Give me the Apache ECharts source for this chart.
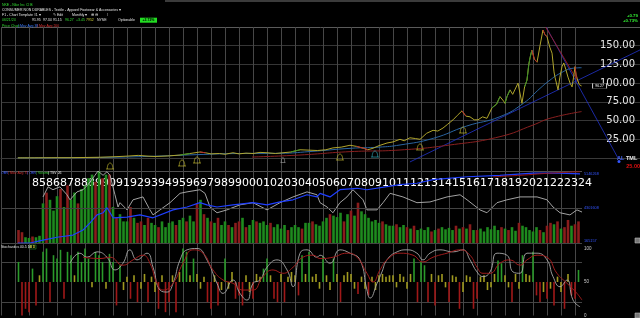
<!DOCTYPE html>
<html><head><meta charset="utf-8">
<script src="https://cdn.jsdelivr.net/npm/echarts@6/dist/echarts.min.js"></script>
<style>html,body{margin:0;padding:0;background:#000;}#c{width:640px;height:318px;}</style>
</head><body><div id="c"></div>
<script>
// ---------------- DATA ----------------
// Monthly close, [year, price]
const priceData = [
[1984.20,0.2],[1985.00,0.2],[1986.00,0.3],[1987.00,0.4],[1988.00,0.4],[1989.00,0.7],[1990.00,1.0],[1991.00,1.6],
[1992.00,2.5],[1992.80,3.5],[1993.50,2.5],[1994.00,2.0],[1995.00,2.8],[1995.80,4.0],[1996.50,6.0],[1997.21,8.0],
[1997.60,7.0],[1998.00,5.5],[1998.60,6.0],[1999.00,5.0],[1999.57,7.0],[2000.00,5.5],[2000.50,6.5],[2001.00,6.0],
[2001.50,7.5],[2002.00,7.0],[2002.60,6.0],[2003.14,7.0],[2003.70,8.0],[2004.36,11.0],[2005.00,10.5],[2005.60,10.0],
[2006.20,11.0],[2006.71,13.5],[2007.30,14.5],[2007.93,17.0],[2008.40,15.5],[2008.90,13.0],[2009.20,11.0],[2009.57,13.0],
[2010.00,16.5],[2010.57,20.0],[2011.00,21.5],[2011.50,25.0],[2011.80,23.0],[2012.21,27.0],[2012.60,26.0],[2012.93,25.0],
[2013.40,33.0],[2013.86,37.0],[2014.20,36.0],[2014.57,40.0],[2014.90,45.0],[2015.29,51.0],[2015.60,57.0],[2015.93,63.0],
[2016.20,56.0],[2016.50,55.0],[2016.80,51.0],[2017.07,51.0],[2017.40,55.0],[2017.71,53.0],[2018.07,67.0],[2018.40,72.0],
[2018.64,82.0],[2018.90,76.0],[2019.00,73.0],[2019.14,82.0],[2019.36,91.0],[2019.55,85.0],[2019.93,100.0],[2020.21,73.0],
[2020.40,95.0],[2020.57,104.0],[2020.70,125.0],[2020.79,134.0],[2020.92,144.0],[2021.10,132.0],[2021.29,128.0],[2021.50,150.0],
[2021.71,171.0],[2021.85,165.0],[2022.00,162.0],[2022.20,148.0],[2022.36,140.0],[2022.50,115.0],[2022.57,108.0],[2022.79,91.0],
[2022.92,108.0],[2023.07,122.0],[2023.20,127.0],[2023.35,118.0],[2023.50,108.0],[2023.65,100.0],[2023.79,95.0],[2023.90,108.0],
[2024.00,122.0],[2024.07,112.0],[2024.14,107.0],[2024.30,98.0],[2024.47,96.27]
];
const ma38Data = [[1984.2,0.2],[1988,0.4],[1991,1.0],[1994,2.4],[1997,4.5],[2000,6.0],[2003,6.3],[2005,8.5],[2008,13],[2010,14.5],
[2011.5,17.4],[2013.88,26.3],[2016.26,42.7],[2018.64,55.2],[2020.31,73],[2021.5,93],[2022.21,104],[2022.93,113],[2023.88,120],[2024.47,120.6]];
const ma200Data = [[2000.93,1.3],[2004.36,4],[2007.93,8.5],[2011.5,10.7],[2015.07,17.4],[2018.64,28.5],[2021.0,44],[2022.21,53],[2024.47,62]];
const trendUpBlue = [[2012.21,-5.3],[2028.64,144.3]];
const trendDownBlue = [[2021.94,175],[2027.07,0]];
const trendDownRed = [[2021.90,175],[2024.29,99.8]];
// periods drawn as up (green) / down (red) runs on the price line
const upRuns = [[1995.8,1996.5],[2003.7,2004.36],[2018.07,2018.64],[2019.0,2019.36],[2020.4,2020.92]];
const downRuns = [[1997.21,1997.6],[2008.4,2009.2],[2015.93,2016.2],[2020.92,2021.29],[2021.71,2022.0],[2024.0,2024.14]];
const earningsMarks = [[1990.79,-10.7],[1995.93,-6.7],[1997.0,-2.7],[2007.21,1.3],[2012.93,14.7],[2016.0,37.4]];
const cyanMarks = [[2009.71,5.3]];
const greyMarks = [[2003.14,-2.7]];
const priceTicks = [25,50,75,100,125,150];
const firstYear = 1985, lastYear = 2024;
const lastClose = 96.27;

// Quarterly volume (percent of panel height), sign = up/down quarter, from 1984.25
const qStart = 1984.25, qStep = 0.25;
const volumeQ = [
-18,-15,8,
7,-9,8,10,  55,-70,60,45,  65,-75,50,-80,  60,70,-55,75,  80,90,95,-85,
100,-90,95,-95,  50,-35,40,30,  30,-50,35,-28,  -30,25,-35,28,  25,-22,30,22,
28,30,-25,32,  35,-30,38,30,  -55,60,-40,35,  -30,28,-35,25,  30,-25,22,-28,
-30,35,-22,25,  32,-30,28,30,  25,-28,22,26,  20,25,-18,22,  25,22,-20,28,
28,-30,26,24,  30,35,-40,38,  36,42,-30,40,  -45,38,-56,44,  40,35,30,32,
28,-30,26,24,  24,-26,22,25,  -22,20,-24,18,  20,18,22,-16,  18,-20,22,19,
21,18,-24,20,  -22,20,-26,18,  -18,20,16,22,  19,24,18,-22,  20,-18,22,17,
-28,24,22,18,  16,22,-18,15,  -24,-28,26,-30,  20,-22,-32,24,
-26,-30
];
const tsvData = [[1986.0,64],[1986.36,78],[1986.71,74],[1987.21,78],[1987.71,67],[1987.93,60],[1988.43,71],[1988.86,74],
[1989.21,81],[1989.71,94],[1989.93,100],[1990.29,94],[1990.57,99],[1990.79,94],[1991.14,67],[1991.36,50],[1991.5,56],
[1992.0,46],[1992.43,60],[1993.14,64],[1993.64,46],[1993.86,39],[1994.36,46],[1995.07,56],[1995.79,69],[1996.29,71],
[1997.21,74],[1997.57,69],[1997.93,50],[1998.43,42],[1999.14,46],[2000.07,53],[2001.0,56],[2002.0,46],[2002.93,56],
[2003.86,64],[2004.86,71],[2005.57,67],[2005.79,56],[2006.29,50],[2006.71,42],[2007.21,56],[2007.71,64],[2008.14,74],
[2008.86,60],[2009.14,46],[2009.86,46],[2010.29,56],[2010.79,69],[2011.71,64],[2012.71,56],[2013.64,57],[2014.86,64],
[2015.79,67],[2016.29,60],[2017.21,46],[2017.71,42],[2018.43,56],[2019.14,60],[2020.07,64],[2021.29,64],[2022.0,60],
[2022.43,50],[2022.93,42],[2023.64,39],[2024.14,46],[2024.5,43]];
const obvData = [[1984.2,0],[1985.07,0],[1986.0,4],[1987.0,8],[1988.14,11],[1988.86,18],[1989.36,28],[1989.86,39],[1990.29,42],
[1990.57,49],[1990.79,42],[1991.0,35],[1992.0,36],[1992.93,39],[1993.86,35],[1995.29,46],[1996.29,50],[1997.21,56],
[1997.71,53],[1998.43,50],[1999.57,53],[2001.0,56],[2002.0,53],[2002.93,57],[2003.86,60],[2004.86,67],[2005.57,64],
[2005.79,69],[2006.5,64],[2007.21,74],[2008.43,76],[2009.14,74],[2011.5,81],[2012.71,83],[2013.86,88],[2016.29,92],
[2018.64,94],[2021.0,97],[2022.93,97],[2024.36,96]];
const obvMA = [[2018.14,92],[2020.07,94],[2022.21,97],[2024.36,99]];
const volScaleLabels = {top:'5146268', mid:'4301608', bottom:'165157'};
const volScaleLevels = {top:96, mid:48.6, bottom:3};

// Stochastics
const stochK = [[1987.93,78],[1988.64,93],[1989.14,87],[1989.86,95],[1990.57,87],[1991.14,68],[1991.71,78],[1992.21,98],
[1992.71,83],[1993.43,93],[1993.86,72],[1994.36,38],[1994.86,35],[1995.29,48],[1995.79,83],[1996.29,98],[1997.0,100],
[1997.71,83],[1998.43,48],[1998.86,33],[1999.57,53],[2000.07,33],[2000.57,23],[2001.0,48],[2001.5,53],[2002.0,72],
[2002.71,83],[2003.43,68],[2003.86,43],[2004.36,93],[2004.86,98],[2005.57,87],[2005.79,90],[2006.5,78],[2007.21,98],
[2007.93,93],[2008.64,83],[2009.14,38],[2009.36,26],[2009.86,48],[2010.21,65],[2010.57,83],[2011.29,95],[2012.0,98],
[2012.71,93],[2013.14,83],[2013.64,93],[2014.36,98],[2015.29,95],[2016.0,98],[2016.5,83],[2017.0,65],[2017.43,58],
[2017.93,65],[2018.43,93],[2019.14,90],[2019.57,65],[2020.07,63],[2020.57,93],[2021.29,93],[2022.0,83],[2022.43,58],
[2022.93,43],[2023.43,53],[2023.86,23],[2024.36,13]];
const stochD = [[1988.86,87],[1990.07,85],[1990.79,87],[1991.71,75],[1992.43,83],[1993.14,90],[1993.64,78],[1994.14,48],
[1994.57,38],[1995.29,48],[1996.0,78],[1996.71,98],[1997.43,93],[1998.14,68],[1998.86,53],[1999.57,48],[2000.29,38],
[2001.0,38],[2001.71,58],[2002.43,68],[2003.14,63],[2003.86,72],[2004.57,87],[2005.29,90],[2005.79,85],[2006.71,87],
[2007.71,93],[2008.43,87],[2009.14,63],[2009.57,50],[2010.07,68],[2010.57,83],[2011.5,93],[2012.43,90],[2013.14,80],
[2013.86,87],[2014.86,93],[2015.79,98],[2016.5,90],[2017.0,72],[2017.43,63],[2017.93,63],[2018.64,78],[2019.36,83],
[2020.07,75],[2020.57,83],[2021.29,90],[2022.0,87],[2022.71,63],[2023.43,48],[2024.14,33],[2024.5,23]];
// Quarterly histogram around the 50 line, from 1984.25
const stochHistQ = [
30,-50,-40,
-45,20,-35,10,  45,50,-30,40,  35,48,-25,45,  40,10,45,30,  50,35,-8,45,
40,30,-10,42,  30,-35,25,-12,  8,-25,10,-30,  -10,12,-30,8,  -15,-40,10,-45,
-30,10,-45,15,  50,45,10,35,  12,-10,8,-30,  -40,10,-35,-12,  35,-10,15,-25,
-20,-35,10,-15,  -25,12,8,20,  35,10,-25,-30,  12,-30,8,15,  10,-20,40,12,
45,8,12,-10,  38,10,-12,35,  12,-30,10,15,  12,-10,-18,8,  -10,-20,8,-12,
10,12,8,10,  10,-8,12,8,  -10,12,35,-30,  30,25,-30,12,  -35,10,12,-8,
-30,10,8,-40,  -15,10,8,-40,  -25,8,10,-12,  -8,12,32,28,  10,-8,-30,12,
-10,40,12,10,  45,-20,-30,-15,  -25,-10,-35,8,  -15,-40,12,-20,
-25,18
];
const stochLabels = [0,50,100];

// ---------------- LAYOUT / STYLE ----------------
const PX_PER_YEAR = 14, X0 = 1983, LEFT = 1;
const mainW = 639, subW = 581;
const vCol = '#474747', none = 'rgba(0,0,0,0)';
const vColors = (n) => Array.from({length:n}, (_,i) => (X0+i) <= lastYear ? vCol : none);
const yellow = '#b0a52c', green = '#3a9028', red = '#b82a2a';
const font = 'Liberation Sans, Arial, sans-serif';

function tx(x, y, text, fill, size, weight, align) {
  return {type:'text', x:x, y:y, silent:true, z:100,
    style:{text:text, fill:fill, font:(weight||'normal')+' '+(size||3.5)+'px '+font,
      align:align||'left', verticalAlign:'middle', textAlign:align||'left', textVerticalAlign:'middle'}};
}
// build run segments from the price array, separated by gaps
function runSegments(runs) {
  const out = [];
  runs.forEach(r => {
    priceData.filter(p => p[0] >= r[0] - 1e-9 && p[0] <= r[1] + 1e-9).forEach(p => out.push(p));
    out.push('-');
  });
  return out;
}

const volBars = volumeQ.map((v,i) => ({value:[qStart+i*qStep, Math.abs(v)], itemStyle:{color: v>=0 ? '#1e8a1e' : '#8a1c1c'}}));
const histBars = stochHistQ.map((v,i) => ({value:[qStart+i*qStep, v], itemStyle:{color: v>15 ? '#2a9a2a' : (v<-15 ? '#a01818' : '#a09a20')}}));
const bell = 'path://M0,9 L10,9 M1.5,9 C1.5,1 8.5,1 8.5,9';

const stochMax = 100 + 4.5/0.67;

const option = {
  backgroundColor:'#000', animation:false,
  grid:[
    {left:LEFT, top:27, width:mainW, height:200*131/175, containLabel:false, outerBoundsMode:'none'},
    {left:LEFT, top:171, width:subW, height:72, containLabel:false, outerBoundsMode:'none'},
    {left:LEFT, top:244, width:subW, height:71.5, containLabel:false, outerBoundsMode:'none'}
  ],
  xAxis:[
    {gridIndex:0, type:'value', min:X0, max:X0+mainW/PX_PER_YEAR, interval:1,
      axisLine:{show:true, onZero:true, lineStyle:{color:'#3a3a3a'}}, axisTick:{show:false},
      splitLine:{show:true, lineStyle:{color:vColors(50), width:1}},
      axisLabel:{show:true, margin:1, color:'#ffffff', fontFamily:'DejaVu Sans', fontSize:11, align:'left', padding:[0,0,0,3],
        formatter: v => (Number.isInteger(v) && v>=firstYear && v<=lastYear) ? String(v%100).padStart(2,'0') : ''}},
    {gridIndex:1, type:'value', min:X0, max:X0+subW/PX_PER_YEAR, interval:1,
      axisLine:{show:false, onZero:false}, axisTick:{show:false}, axisLabel:{show:false},
      splitLine:{show:true, lineStyle:{color:vColors(46), width:1}}},
    {gridIndex:2, type:'value', min:X0, max:X0+subW/PX_PER_YEAR, interval:1,
      axisLine:{show:false, onZero:false}, axisTick:{show:false}, axisLabel:{show:false},
      splitLine:{show:true, lineStyle:{color:vColors(46), width:1}}}
  ],
  yAxis:[
    {gridIndex:0, type:'value', position:'right', min:-25, max:175, interval:25,
      axisLine:{show:false}, axisTick:{show:false},
      splitLine:{show:true, lineStyle:{color:[none,'#363636','#363636','#363636','#363636','#363636','#363636','#363636','#5a5a5a']}},
      axisLabel:{show:true, inside:true, margin:5, color:'#e6e6e6', fontFamily:'DejaVu Sans', fontSize:10, padding:[0,0,4,0],
        formatter: v => priceTicks.indexOf(v) >= 0 ? v.toFixed(2) : ''}},
    {gridIndex:1, type:'value', position:'right', min:0, max:100, interval:100,
      axisLine:{show:false}, axisTick:{show:false}, axisLabel:{show:false},
      splitLine:{show:true, lineStyle:{color:['#444','#505050']}}},
    {gridIndex:2, type:'value', position:'right', min:0, max:stochMax, interval:10,
      axisLine:{show:false}, axisTick:{show:false},
      splitLine:{show:true, lineStyle:{color:[none,none,'#444',none,none,none,none,none,'#444',none,none,none,none]}},
      axisLabel:{show:true, margin:2, color:'#cccccc', fontFamily:font, fontSize:4.5,
        formatter: v => stochLabels.indexOf(v) >= 0 ? String(v) : ''}},
    {gridIndex:2, type:'value', position:'right', min:-50, max:stochMax-50, show:false}
  ],
  series:[
    {type:'line', name:'Price', xAxisIndex:0, yAxisIndex:0, data:priceData, symbol:'none', z:5,
      lineStyle:{width:1, color:yellow}, itemStyle:{color:yellow},
      markPoint:{symbol:'rect', symbolSize:[14,5], symbolOffset:[18,0], silent:true,
        itemStyle:{color:'#000', borderColor:'#cfcfcf', borderWidth:0.6},
        label:{show:true, position:'inside', color:'#fff', fontSize:3.5, fontFamily:font, formatter:String(lastClose)},
        data:[{coord:[priceData[priceData.length-1][0], lastClose]}]}},
    {type:'line', name:'PriceUp', xAxisIndex:0, yAxisIndex:0, data:runSegments(upRuns), symbol:'none', z:6, connectNulls:false,
      lineStyle:{width:1, color:green}, itemStyle:{color:green}},
    {type:'line', name:'PriceDown', xAxisIndex:0, yAxisIndex:0, data:runSegments(downRuns), symbol:'none', z:6, connectNulls:false,
      lineStyle:{width:1, color:red}, itemStyle:{color:red}},
    {type:'line', name:'MA38', xAxisIndex:0, yAxisIndex:0, data:ma38Data, symbol:'none', smooth:true, z:4,
      lineStyle:{width:1, color:'#2a64a0'}, itemStyle:{color:'#2a64a0'}},
    {type:'line', name:'MA200', xAxisIndex:0, yAxisIndex:0, data:ma200Data, symbol:'none', smooth:true, z:4,
      lineStyle:{width:1, color:'#8a2020'}, itemStyle:{color:'#8a2020'}},
    {type:'line', xAxisIndex:0, yAxisIndex:0, data:trendUpBlue, symbol:'none', z:3, lineStyle:{width:0.8, color:'#2233cc'}},
    {type:'line', xAxisIndex:0, yAxisIndex:0, data:trendDownBlue, symbol:'none', z:3, lineStyle:{width:0.8, color:'#2233cc'}},
    {type:'line', xAxisIndex:0, yAxisIndex:0, data:trendDownRed, symbol:'none', z:3, lineStyle:{width:0.8, color:'#b02020'}},
    {type:'scatter', xAxisIndex:0, yAxisIndex:0, data:earningsMarks, symbol:bell, symbolSize:[8,6], z:6,
      itemStyle:{color:none, borderColor:'#c8c030', borderWidth:0.8}},
    {type:'scatter', xAxisIndex:0, yAxisIndex:0, data:cyanMarks, symbol:bell, symbolSize:[8,6], z:6,
      itemStyle:{color:none, borderColor:'#30b0c0', borderWidth:0.8}},
    {type:'scatter', xAxisIndex:0, yAxisIndex:0, data:greyMarks, symbol:bell, symbolSize:[5,5], z:6,
      itemStyle:{color:none, borderColor:'#999', borderWidth:0.8}},
    {type:'bar', xAxisIndex:1, yAxisIndex:1, data:volBars, barWidth:2.6, z:2},
    {type:'line', xAxisIndex:1, yAxisIndex:1, data:tsvData, symbol:'none', z:4, lineStyle:{width:0.9, color:'#b4b4b4'}, itemStyle:{color:'#b4b4b4'},
      markLine:{symbol:'none', silent:true, animation:false,
        label:{show:true, position:'end', distance:2, color:'#3355ff', fontSize:3.8, fontFamily:font},
        data:[
          {yAxis:volScaleLevels.mid, lineStyle:{color:'#444', type:'solid', width:1}, label:{formatter:volScaleLabels.mid}},
          {yAxis:volScaleLevels.top, lineStyle:{color:none, width:0}, label:{formatter:volScaleLabels.top}},
          {yAxis:volScaleLevels.bottom, lineStyle:{color:none, width:0}, label:{formatter:volScaleLabels.bottom}}
        ]}},
    {type:'line', xAxisIndex:1, yAxisIndex:1, data:obvData, symbol:'none', z:5, lineStyle:{width:1.2, color:'#1f3fff'}, itemStyle:{color:'#1f3fff'}},
    {type:'line', xAxisIndex:1, yAxisIndex:1, data:obvMA, symbol:'none', smooth:true, z:5, lineStyle:{width:0.9, color:'#a01818'}, itemStyle:{color:'#a01818'}},
    {type:'bar', xAxisIndex:2, yAxisIndex:3, data:histBars, barWidth:1.6, z:2},
    {type:'line', xAxisIndex:2, yAxisIndex:2, data:stochK, symbol:'none', smooth:true, z:4, lineStyle:{width:0.9, color:'#a8a8a8'}, itemStyle:{color:'#a8a8a8'}},
    {type:'line', xAxisIndex:2, yAxisIndex:2, data:stochD, symbol:'none', smooth:true, z:5, lineStyle:{width:1, color:'#a01c1c'}, itemStyle:{color:'#a01c1c'}}
  ],
  graphic:[
    {type:'line', shape:{x1:165, y1:1, x2:640, y2:1}, style:{stroke:'#777', lineWidth:1}, silent:true},
    tx(2,5,'NKE - Nike Inc Cl B','#33dd33'),
    tx(2,10,'CONSUMER NON DURABLES - Textile - Apparel Footwear & Accessories \u25be','#e6e6e6'),
    tx(2,15,'F1 - Chart Template #1 \u25be','#e6e6e6'),
    tx(53,15,'\u270e Edit','#e6e6e6'),
    tx(72,15,'Monthly \u25be','#e6e6e6'),
    tx(91,15,'\u2295 \u2296','#e6e6e6'),
    tx(107,15,'/','#e6e6e6'),
    tx(2,20,'06/21/24','#33dd33'),
    tx(32,20,'91.95','#e6e6e6'),
    tx(43,20,'97.34','#e6e6e6'),
    tx(53,20,'91.15','#e6e6e6'),
    tx(65,20,'96.27','#33dd33'),
    tx(76,20,'+3.45','#33dd33'),
    tx(86,20,'7952','#cccc33'),
    tx(97,20,'NYSE','#e6e6e6'),
    tx(118,20,'Optionable','#e6e6e6'),
    {type:'rect', shape:{x:140, y:17.7, width:17, height:5}, style:{fill:'#22dd22'}, silent:true},
    tx(148.5,20.2,'+3.72%','#000','3.5','bold','center'),
    tx(2,25.7,'Price Chart','#33dd33'),
    tx(18,25.7,'| Mov Avg 38','#3a7aff'),
    tx(37,25.7,'| Mov Avg 200','#e03333'),
    tx(638,15.5,'+0.79','#33ee33',4.4,'bold','right'),
    tx(638,20.5,'+0.73%','#33ee33',4.4,'bold','right'),
    {type:'circle', shape:{cx:619, cy:161.5, r:1.5}, style:{fill:'#3355ff'}, silent:true},
    tx(617,158.3,'AL','#4a6aff',5.5,'bold'),
    tx(626,158.3,'TML','#e6e6e6',5.5,'bold'),
    tx(640,166,'25.00','#e01010',5.5,'bold','right'),
    tx(1,173,'OBV','#3a5aff'),
    tx(8,173,'| Mov Avg 75','#d03030'),
    tx(27,173,'| OBV','#3a5aff'),
    tx(36,173,'| Volume','#33cc33'),
    tx(48,173,'| TSV 26','#e6e6e6'),
    tx(1,247,'Stochastics 40.5 10','#e6e6e6'),
    {type:'rect', shape:{x:29, y:245, width:7, height:4}, style:{fill:'#000', stroke:'#33aa33', lineWidth:0.5}, silent:true},
    tx(32.5,247,'K D','#cccc33',3,'bold','center'),
    {type:'rect', shape:{x:635, y:238, width:5, height:5}, style:{fill:'#777', stroke:'#bbb', lineWidth:0.6}, silent:true},
    {type:'rect', shape:{x:635, y:313, width:5, height:5}, style:{fill:'#777', stroke:'#bbb', lineWidth:0.6}, silent:true}
  ]
};
const chart = echarts.init(document.getElementById('c'), null, {renderer:'canvas'});
chart.setOption(option);
</script>
</body></html>
